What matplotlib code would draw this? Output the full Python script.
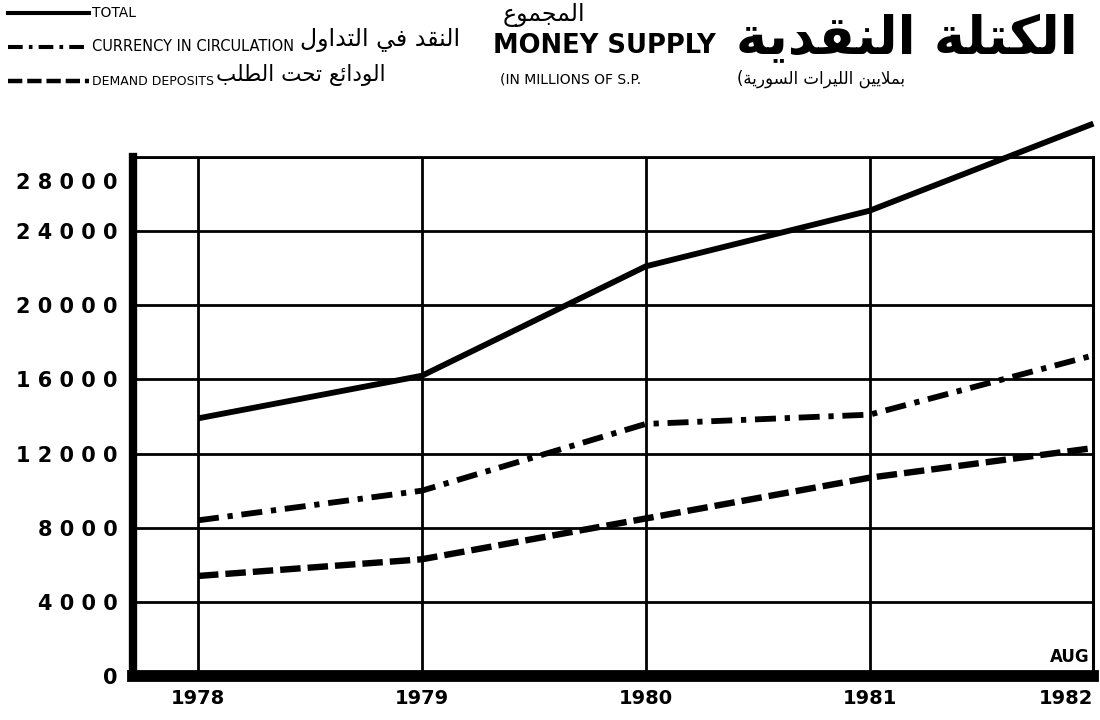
import matplotlib
matplotlib.use("Agg")
import matplotlib.pyplot as plt
from matplotlib.lines import Line2D

# values (millions of S.P.), last point is Aug 1982
years = [1978, 1979, 1980, 1981, 1982]
year_labels = ["1978", "1979", "1980", "1981", "1982"]
total = [13900, 16200, 22100, 25100, 29800]
currency = [8400, 10000, 13600, 14100, 17300]
demand = [5400, 6300, 8500, 10700, 12300]
y_ticks = [0, 4000, 8000, 12000, 16000, 20000, 24000, 28000]

title_en = "MONEY SUPPLY"
title_ar = "الكتلة النقدية"
units_en = "(IN MILLIONS OF S.P."
units_ar = "بملايين الليرات السورية"
names_en = ["TOTAL", "CURRENCY IN CIRCULATION", "DEMAND DEPOSITS"]
names_ar = ["المجموع", "النقد في التداول", "الودائع تحت الطلب"]

# tiny arabic shaper: base presentation form + number of forms (4 dual, 2 right-joining)
FORMS = {
    'ئ': (0xFE89, 4), 'ا': (0xFE8D, 2), 'ب': (0xFE8F, 4), 'ة': (0xFE93, 2),
    'ت': (0xFE95, 4), 'ج': (0xFE9D, 4), 'ح': (0xFEA1, 4), 'د': (0xFEA9, 2),
    'ر': (0xFEAD, 2), 'س': (0xFEB1, 4), 'ط': (0xFEC1, 4), 'ع': (0xFEC9, 4),
    'ف': (0xFED1, 4), 'ق': (0xFED5, 4), 'ك': (0xFED9, 4), 'ل': (0xFEDD, 4),
    'م': (0xFEE1, 4), 'ن': (0xFEE5, 4), 'و': (0xFEED, 2), 'ي': (0xFEF1, 4),
}


def shape_ar(text):
    out = []
    i = 0
    while i < len(text):
        c = text[i]
        if c not in FORMS:
            out.append(c)
            i += 1
            continue
        prev = text[i - 1] if i > 0 else ''
        joins_prev = prev in FORMS and FORMS[prev][1] == 4
        if c == 'ل' and i + 1 < len(text) and text[i + 1] == 'ا':
            out.append(chr(0xFEFC if joins_prev else 0xFEFB))
            i += 2
            continue
        nxt = text[i + 1] if i + 1 < len(text) else ''
        joins_next = FORMS[c][1] == 4 and nxt in FORMS
        if joins_prev and joins_next:
            off = 3
        elif joins_prev:
            off = 1
        elif joins_next:
            off = 2
        else:
            off = 0
        out.append(chr(FORMS[c][0] + off))
        i += 1
    return ''.join(reversed(out))


NARROW = ["Liberation Sans Narrow", "DejaVu Sans"]
AR = ["DejaVu Sans"]

fig = plt.figure(figsize=(11, 7.2), dpi=100)
ax = fig.add_axes([0.121, 0.061, 0.873, 0.721])

styles = [
    dict(linestyle="-", lw=4.2),
    dict(linestyle=(0, (3.6, 1.5, 0.9, 1.5)), lw=4.2),
    dict(linestyle=(0, (3.2, 1.1)), lw=4.6),
]
for vals, st in zip([total, currency, demand], styles):
    ax.plot(years, vals, color="black", clip_on=False, solid_capstyle="butt", **st)

ax.set_xlim(1977.71, 1982)
ax.set_ylim(0, 28000)
ax.set_xticks(years)
ax.set_yticks(y_ticks)
ax.grid(True, color="black", lw=2.0)
ax.set_axisbelow(True)
for side, w in [("left", 6), ("bottom", 8.5), ("top", 2.0), ("right", 2.2)]:
    ax.spines[side].set_linewidth(w)
ax.tick_params(length=0)

ylabels = [" ".join(str(v)) for v in y_ticks]
ax.set_yticklabels(ylabels[:-1] + [""], fontsize=15, fontweight="bold")
ax.tick_params(axis="y", pad=11)
# top label sits a bit below its line in the original print
ax.annotate(ylabels[-1], xy=(0, y_ticks[-1]), xycoords=("axes fraction", "data"),
            xytext=(-11, -19), textcoords="offset points", ha="right", va="center",
            fontsize=15, fontweight="bold", annotation_clip=False)

ax.set_xticklabels(year_labels, fontsize=14, fontweight="bold")
ax.tick_params(axis="x", pad=9)
ax.get_xticklabels()[-1].set_horizontalalignment("right")
ax.annotate("AUG", xy=(1982, 0), xytext=(-3, 7), textcoords="offset points",
            ha="right", va="bottom", fontsize=12, fontweight="bold")

# header legend
rows = [0.982, 0.935, 0.887]
for y, st in zip(rows, styles):
    fig.add_artist(Line2D([0.007, 0.081], [y, y], color="black",
                          linestyle=st["linestyle"], lw=st["lw"] * 0.7))
for y, name, fs in zip(rows, names_en, [10, 10.5, 9]):
    fig.text(0.084, y, name, fontsize=fs, family=NARROW, va="center")

fig.text(0.532, 0.979, shape_ar(names_ar[0]), fontsize=17, family=AR, ha="right", va="center")
fig.text(0.418, 0.944, shape_ar(names_ar[1]), fontsize=17, family=AR, ha="right", va="center")
fig.text(0.351, 0.896, shape_ar(names_ar[2]), fontsize=15.5, family=AR, ha="right", va="center")

fig.text(0.448, 0.936, title_en, fontsize=18.5, fontweight="bold", va="center")
fig.text(0.980, 0.945, shape_ar(title_ar), fontsize=38, family=AR, fontweight="bold",
         ha="right", va="center")
fig.text(0.455, 0.889, units_en, fontsize=10, family=NARROW, va="center")
fig.text(0.823, 0.891, "(" + shape_ar(units_ar), fontsize=12, family=AR, ha="right", va="center")

fig.savefig("out.png", dpi=100, facecolor="white")
